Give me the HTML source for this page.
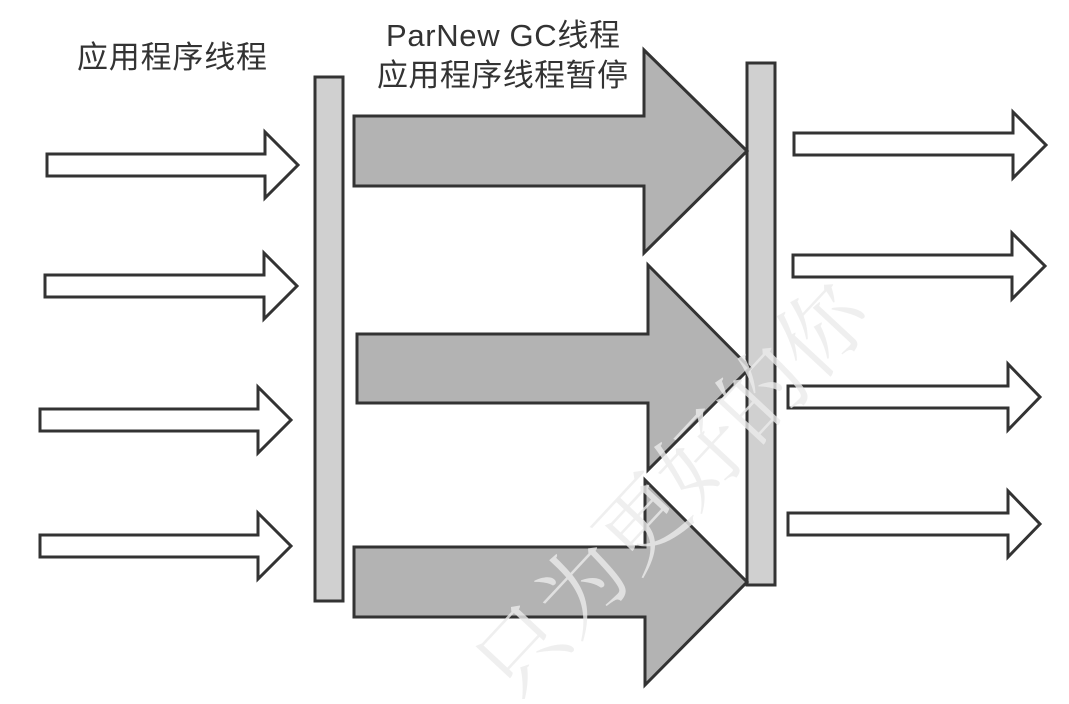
<!DOCTYPE html>
<html><head><meta charset="utf-8"><style>
body{margin:0;background:#fff;width:1069px;height:699px;overflow:hidden}
text{font-family:"Liberation Sans","Noto Sans CJK SC",sans-serif;fill:#333;font-size:31px}
</style></head><body>
<svg width="1069" height="699" viewBox="0 0 1069 699">
<g stroke="#333" stroke-width="3" stroke-linejoin="miter">
<rect x="315" y="77" width="28" height="524" fill="#d0d0d0"/>
<rect x="747" y="63" width="28" height="522" fill="#d0d0d0"/>
<g fill="#fff">
<polygon points="47,154 265,154 265,132 298,165 265,198 265,176 47,176"/>
<polygon points="45,275 264,275 264,253 297,286 264,319 264,297 45,297"/>
<polygon points="40,409 258,409 258,387 291,420 258,453 258,431 40,431"/>
<polygon points="40,535 258,535 258,513 291,546 258,579 258,557 40,557"/>
<polygon points="794,133 1013,133 1013,112 1046,145 1013,178 1013,155 794,155"/>
<polygon points="793,255 1012,255 1012,233 1045,266 1012,299 1012,277 793,277"/>
<polygon points="788,386 1008,386 1008,364 1040,397 1008,430 1008,408 788,408"/>
<polygon points="788,513 1008,513 1008,491 1040,524 1008,557 1008,535 788,535"/>
</g>
<g fill="#b3b3b3">
<polygon points="354,116 644,116 644,50 747,151 644,253 644,186 354,186"/>
<polygon points="357,334 648,334 648,265 750,368 648,470 648,403 357,403"/>
<polygon points="354,547 645,547 645,480 747,582 645,685 645,617 354,617"/>
</g>
</g>
<text x="77" y="68" textLength="190">应用程序线程</text>
<text x="386" y="46" textLength="234">ParNew GC线程</text>
<text x="377" y="86" textLength="251">应用程序线程暂停</text>
<text x="0" y="0" transform="translate(515,705) rotate(-47)" style="fill:#ececec;font-size:88px;font-family:'Noto Serif CJK SC',serif;opacity:0.8">只为更好的你</text>
</svg>
</body></html>
